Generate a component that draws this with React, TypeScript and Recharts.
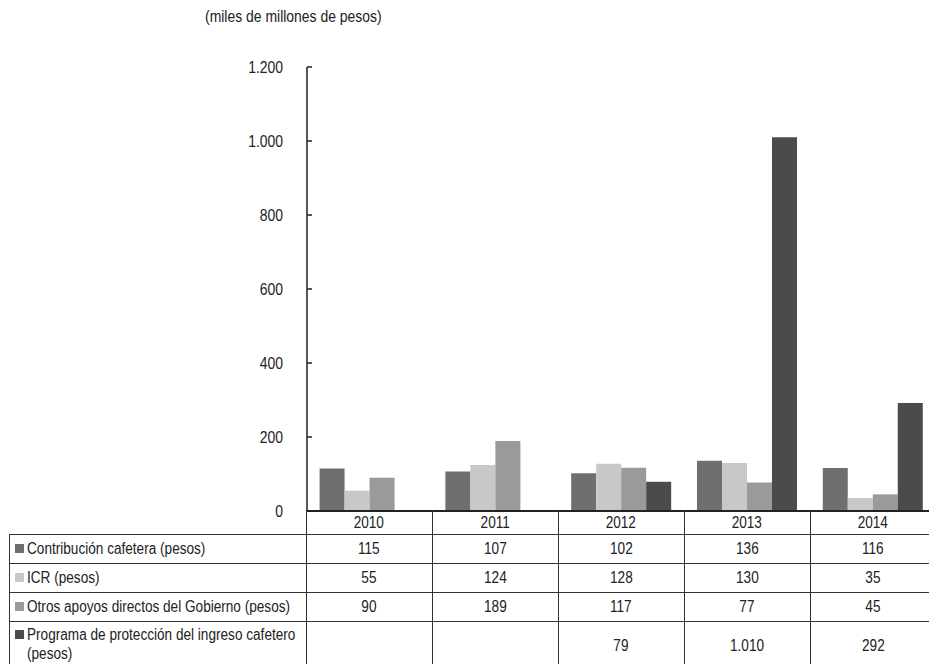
import React from "react";
import { BarChart, Bar, XAxis, YAxis, ReferenceLine } from "recharts";

// Values in miles de millones de pesos
const years = ["2010", "2011", "2012", "2013", "2014"];
const contribucion = [115, 107, 102, 136, 116];
const icr = [55, 124, 128, 130, 35];
const otros = [90, 189, 117, 77, 45];
const programa = [null, null, 79, 1010, 292];
const yTicks = [0, 200, 400, 600, 800, 1000, 1200];

const seriesLabels = [
  "Contribución cafetera (pesos)",
  "ICR (pesos)",
  "Otros apoyos directos del Gobierno (pesos)",
  "Programa de protección del ingreso cafetero (pesos)",
];
const COLORS = ["#6f6f6f", "#c8c8c8", "#9a9a9a", "#4b4b4b"];

// no narrow font installed: squeeze Liberation Sans horizontally instead
const FONT = "'Liberation Sans', Arial, sans-serif";
const SQUEEZE = 0.82;
const TABLE_SQUEEZE = 0.85;
const INK = "#222";

const fmt = (n: number | null) =>
  n === null ? "" : String(n).replace(/\B(?=(\d{3})+(?!\d))/g, ".");

const data = years.map((year, i) => ({
  year,
  contribucion: contribucion[i],
  icr: icr[i],
  otros: otros[i],
  programa: programa[i],
}));
const seriesValues = [contribucion, icr, otros, programa];
const keys = ["contribucion", "icr", "otros", "programa"];

// table geometry
const COL_LEFT = 306;
const COL_W = 126;
const TABLE_LEFT = 9;
const HEADER_TOP = 510;
const rowTops = [534, 563, 592, 621];
const rowHeights = [29, 29, 29, 50];

const YTick = (props: any) => {
  const { x, y, payload } = props;
  return (
    <g>
      <line x1={x} x2={x + 5} y1={y} y2={y} stroke={INK} strokeWidth={1.5} />
      <text
        transform={`translate(${x - 24},${y}) scale(${SQUEEZE},1)`}
        textAnchor="end"
        dominantBaseline="central"
        fontFamily={FONT}
        fontSize={17}
        fill={INK}
      >
        {fmt(payload.value)}
      </text>
    </g>
  );
};

const Narrow = ({
  children,
  origin = "center",
  k = SQUEEZE,
}: {
  children: React.ReactNode;
  origin?: string;
  k?: number;
}) => (
  <span style={{ display: "inline-block", transform: `scaleX(${k})`, transformOrigin: origin }}>
    {children}
  </span>
);

const hLine = (top: number, left: number, width: number, key: string) => (
  <div key={key} style={{ position: "absolute", top, left, width, height: 1, background: "#333" }} />
);
const vLine = (left: number, top: number, height: number, key: string) => (
  <div key={key} style={{ position: "absolute", top, left, width: 1, height, background: "#333" }} />
);

export default function App() {
  return (
    <div
      style={{
        position: "absolute",
        left: 0,
        top: 0,
        width: 929,
        height: 664,
        overflow: "hidden",
        background: "#fff",
        fontFamily: FONT,
        color: INK,
      }}
    >
      <div style={{ position: "absolute", left: 205, top: 7, fontSize: 17, lineHeight: "19px", whiteSpace: "nowrap" }}>
        <Narrow origin="left">(miles de millones de pesos)</Narrow>
      </div>

      <div style={{ position: "absolute", left: 0, top: 0 }}>
        <BarChart
          width={960}
          height={520}
          data={data}
          margin={{ top: 67, right: 24, left: 0, bottom: 9 }}
          barCategoryGap="10%"
          barGap={0}
        >
          <XAxis dataKey="year" hide />
          <YAxis
            width={307}
            domain={[0, 1200]}
            ticks={yTicks}
            interval={0}
            tickSize={0}
            tickMargin={0}
            tickLine={false}
            axisLine={{ stroke: INK, strokeWidth: 1.5 }}
            tick={<YTick />}
          />
          {keys.map((k, i) => (
            <Bar key={k} dataKey={k} fill={COLORS[i]} isAnimationActive={false} />
          ))}
          <ReferenceLine y={0} stroke={INK} strokeWidth={2} ifOverflow="extendDomain" />
        </BarChart>
      </div>

      {/* data table */}
      {rowTops.map((t, i) => hLine(t, TABLE_LEFT, 929 - TABLE_LEFT, "h" + i))}
      {vLine(TABLE_LEFT, rowTops[0], 140, "vl")}
      {[0, 1, 2, 3, 4, 5].map((i) => vLine(COL_LEFT + i * COL_W, HEADER_TOP, 160, "v" + i))}

      {years.map((y, i) => (
        <div
          key={"y" + y}
          style={{
            position: "absolute",
            left: COL_LEFT + i * COL_W,
            top: HEADER_TOP + 2,
            width: COL_W,
            height: rowTops[0] - HEADER_TOP - 2,
            display: "flex",
            alignItems: "center",
            justifyContent: "center",
            fontSize: 16,
          }}
        >
          <Narrow k={TABLE_SQUEEZE}>{y}</Narrow>
        </div>
      ))}

      {seriesLabels.map((label, r) => (
        <React.Fragment key={"r" + r}>
          <div
            style={{
              position: "absolute",
              left: 15,
              top: rowTops[r] + (r === 3 ? 4 : 5),
              width: 290,
              fontSize: 16,
              lineHeight: "19px",
              display: "flex",
              alignItems: "flex-start",
            }}
          >
            <span
              style={{
                display: "inline-block",
                width: 9,
                height: 9,
                background: COLORS[r],
                marginTop: 5,
                marginRight: 3,
                flex: "0 0 auto",
              }}
            />
            <span
              style={{
                display: "inline-block",
                flex: "0 0 auto",
                width: 330,
                transform: `scaleX(${TABLE_SQUEEZE})`,
                transformOrigin: "left",
              }}
            >
              {label}
            </span>
          </div>
          {seriesValues[r].map((v, c) => (
            <div
              key={"c" + r + c}
              style={{
                position: "absolute",
                left: COL_LEFT + c * COL_W,
                top: rowTops[r],
                width: COL_W,
                height: rowHeights[r],
                display: "flex",
                alignItems: "center",
                justifyContent: "center",
                fontSize: 16,
              }}
            >
              <Narrow k={TABLE_SQUEEZE}>{fmt(v)}</Narrow>
            </div>
          ))}
        </React.Fragment>
      ))}
    </div>
  );
}
